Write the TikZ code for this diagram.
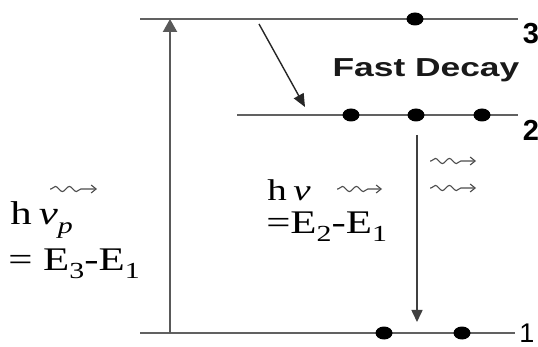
\documentclass[tikz,border=0pt]{standalone}
\usepackage{fontspec}
\setmainfont{Liberation Serif}
\setsansfont{Liberation Sans}
\usetikzlibrary{arrows.meta,decorations.pathmorphing,shapes.geometric}
\begin{document}
\begin{tikzpicture}[x=1pt,y=-1pt,
  level/.style={draw=black!62,line width=2.6pt},
  electron/.style={ellipse,fill=black,inner sep=0pt,minimum width=17pt,minimum height=13pt},
  photon/.style={draw=black!70,line width=1.1pt,-{Straight Barb[length=5pt,width=8pt]},
     decorate,decoration={snake,amplitude=2.6pt,segment length=14pt,pre length=1pt,post length=10pt}},
  serif/.style={inner sep=0pt,anchor=west,xscale=1.3,text=black},
  numlab/.style={inner sep=0pt,font=\sffamily\bfseries\fontsize{29}{29}\selectfont}
]
\useasboundingbox (0,0) rectangle (538,347);
% levels
\coordinate (L3a) at (140,19); \coordinate (L3b) at (518,19);
\coordinate (L2a) at (237,115); \coordinate (L2b) at (518,115);
\coordinate (L1a) at (140,333); \coordinate (L1b) at (515,333);
\draw[level] (L3a) -- (L3b);
\draw[level] (L2a) -- (L2b);
\draw[level] (L1a) -- (L1b);
% electrons
\node[electron] (e3) at (415,19) {};
\node[electron] (e2a) at (351,115) {};
\node[electron] (e2b) at (416,115) {};
\node[electron] (e2c) at (482,115) {};
\node[electron] (e1a) at (384,333) {};
\node[electron] (e1b) at (462,333) {};
% level numbers
\node[numlab] (n3) at (531,34) {3};
\node[numlab] (n2) at (531,130) {2};
\node[numlab,font=\sffamily\fontsize{27}{27}\selectfont] (n1) at (527,333) {1};
% pump arrow
\coordinate (pb) at (170,333); \coordinate (pt) at (170,19);
\draw[draw=black!65,line width=2.2pt,-{Triangle[length=13pt,width=14pt]}] (pb) -- (pt);
% fast decay arrow
\coordinate (fa) at (259,24); \coordinate (fb) at (305,107);
\draw[black!85,line width=1.4pt,-{Triangle[length=13pt,width=11pt]}] (fa) -- (fb);
\node[inner sep=0pt,font=\sffamily\bfseries\fontsize{26}{26}\selectfont,xscale=1.36,text=black!90] (fd) at (426,70) {Fast Decay};
% emission arrow
\coordinate (da) at (417,135); \coordinate (db) at (417,322);
\draw[black!75,line width=1.6pt,-{Triangle[length=12pt,width=11pt]}] (da) -- (db);
% photons
\coordinate (p1a) at (430,161); \coordinate (p1b) at (476,161);
\coordinate (p2a) at (430,188); \coordinate (p2b) at (476,188);
\draw[photon] (p1a) -- (p1b);
\draw[photon] (p2a) -- (p2b);
\coordinate (p3a) at (337,189); \coordinate (p3b) at (382,189);
\draw[photon] (p3a) -- (p3b);
\coordinate (p4a) at (50,189); \coordinate (p4b) at (97,189);
\draw[photon] (p4a) -- (p4b);
% texts
\node[serif,font=\fontsize{30}{30}\selectfont] (hv) at (267,190) {h\,\textit{ν}};
\node[serif,font=\fontsize{33}{33}\selectfont] (e21) at (266,227) {=E\raisebox{-0.25em}{\fontsize{23}{23}\selectfont 2}-E\raisebox{-0.25em}{\fontsize{23}{23}\selectfont 1}};
\node[serif,font=\fontsize{33}{33}\selectfont] (hvp) at (10,220) {h\,\textit{ν}\raisebox{-0.3em}{\fontsize{23}{23}\selectfont\textit{p}}};
\node[serif,font=\fontsize{33}{33}\selectfont] (e31) at (8,264) {= E\raisebox{-0.25em}{\fontsize{23}{23}\selectfont 3}-E\raisebox{-0.25em}{\fontsize{23}{23}\selectfont 1}};
\end{tikzpicture}
\end{document}
